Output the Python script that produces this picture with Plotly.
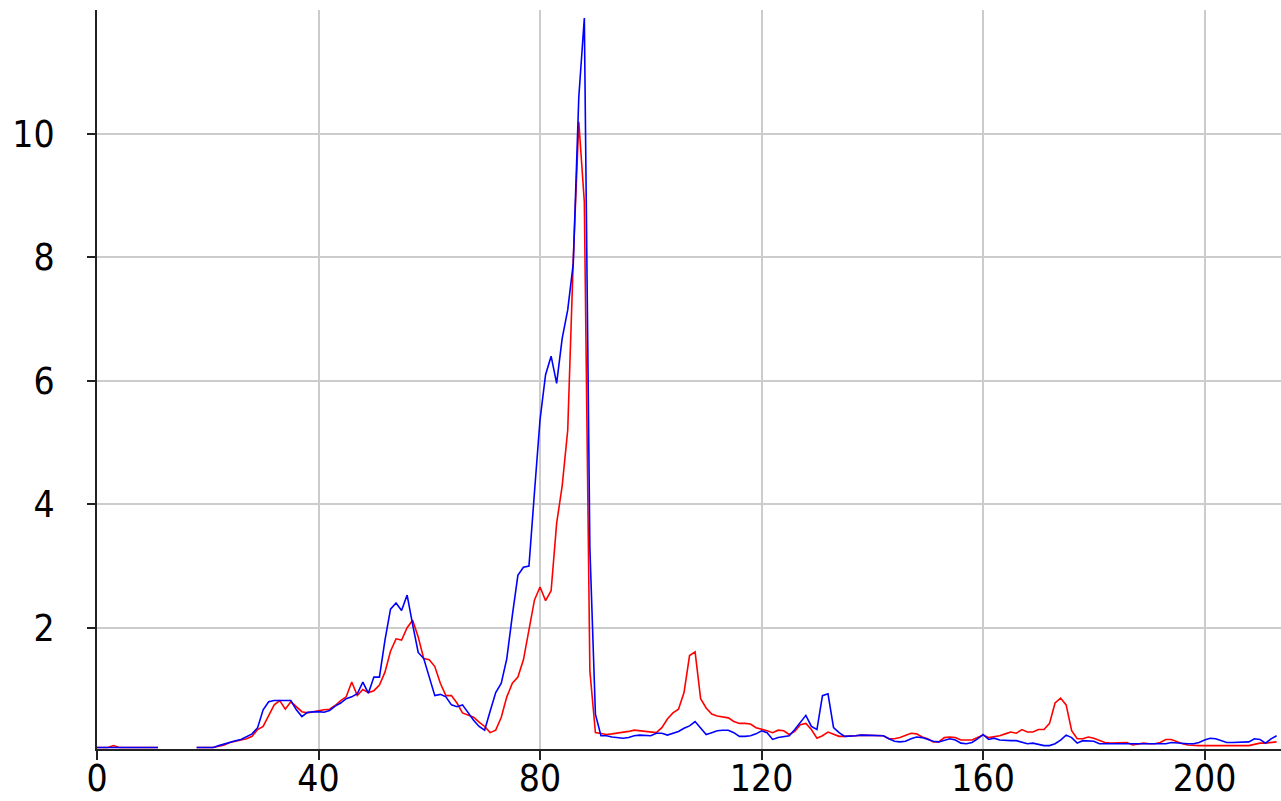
import plotly.graph_objects as go

# Sample positions (one per unit) and the two measured profiles.
x_values = list(range(0, 214))

base = 0.06
gap = None

red_series = (
    [base, base, base, 0.09, base, base, base, base, base, base, base, base]          # 0-11
    + [gap, gap, gap, gap, gap, gap]                                                   # 12-17
    + [base, base, base, 0.06, 0.08, 0.10, 0.14, 0.16, 0.18, 0.20, 0.24]               # 18-28
    + [0.35, 0.40, 0.57, 0.75, 0.82, 0.68, 0.80, 0.72, 0.64, 0.62, 0.64]               # 29-39
    + [0.66, 0.67, 0.68, 0.74, 0.82, 0.88, 1.12, 0.90, 1.00, 0.95, 0.98]               # 40-50
    + [1.07, 1.28, 1.62, 1.82, 1.80, 2.00, 2.12, 1.85, 1.50, 1.48, 1.37]               # 51-61
    + [1.10, 0.90, 0.90, 0.78, 0.62, 0.58, 0.55, 0.47, 0.40, 0.30, 0.34]               # 62-72
    + [0.55, 0.88, 1.10, 1.20, 1.48, 1.95, 2.45, 2.66, 2.44, 2.60, 3.69]               # 73-83
    + [4.30, 5.20, 7.96, 10.20, 8.90, 1.30, 0.30, 0.29, 0.27, 0.28, 0.29]              # 84-94
    + [0.30, 0.32, 0.34, 0.33, 0.32, 0.31, 0.30, 0.38, 0.52, 0.62, 0.68]               # 95-105
    + [0.95, 1.55, 1.61, 0.85, 0.70, 0.60, 0.57, 0.56, 0.54, 0.48, 0.45]               # 106-116
    + [0.45, 0.44, 0.38, 0.36, 0.33, 0.30, 0.34, 0.33, 0.27, 0.32, 0.43]               # 117-127
    + [0.45, 0.35, 0.21, 0.25, 0.31, 0.28, 0.24, 0.24, 0.24, 0.25, 0.26]               # 128-138
    + [0.26, 0.26, 0.26, 0.25, 0.20, 0.20, 0.22, 0.26, 0.29, 0.28, 0.23]               # 139-149
    + [0.20, 0.15, 0.15, 0.22, 0.23, 0.22, 0.18, 0.18, 0.18, 0.22, 0.26]               # 150-160
    + [0.22, 0.23, 0.25, 0.28, 0.31, 0.29, 0.35, 0.31, 0.31, 0.35, 0.35]               # 161-171
    + [0.45, 0.78, 0.86, 0.75, 0.33, 0.20, 0.20, 0.23, 0.21, 0.17, 0.14]               # 172-182
    + [0.13, 0.13, 0.14, 0.14, 0.10, 0.12, 0.13, 0.12, 0.12, 0.14, 0.19]               # 183-193
    + [0.19, 0.15, 0.12, 0.10, 0.09, 0.09, 0.09, 0.09, 0.09, 0.09, 0.09]               # 194-204
    + [0.09, 0.09, 0.09, 0.09, 0.11, 0.13, 0.13, 0.14, 0.15]                           # 205-213
)

blue_series = (
    [base, base, base, base, base, base, base, base, base, base, base, base]          # 0-11
    + [gap, gap, gap, gap, gap, gap]                                                   # 12-17
    + [base, base, base, 0.06, 0.09, 0.12, 0.15, 0.17, 0.19, 0.23, 0.28]               # 18-28
    + [0.38, 0.67, 0.80, 0.82, 0.82, 0.82, 0.82, 0.67, 0.56, 0.63, 0.64]               # 29-39
    + [0.64, 0.63, 0.66, 0.73, 0.78, 0.85, 0.88, 0.93, 1.12, 0.94, 1.20]               # 40-50
    + [1.20, 1.80, 2.30, 2.40, 2.28, 2.53, 2.05, 1.60, 1.50, 1.20, 0.90]               # 51-61
    + [0.92, 0.88, 0.75, 0.72, 0.75, 0.62, 0.50, 0.40, 0.34, 0.65, 0.95]               # 62-72
    + [1.10, 1.50, 2.20, 2.85, 2.98, 3.00, 4.20, 5.37, 6.10, 6.40, 5.96]               # 73-83
    + [6.69, 7.15, 7.90, 10.60, 11.88, 3.30, 0.60, 0.25, 0.25, 0.23, 0.22]             # 84-94
    + [0.21, 0.22, 0.25, 0.26, 0.26, 0.25, 0.29, 0.29, 0.26, 0.29, 0.32]               # 95-105
    + [0.37, 0.41, 0.48, 0.38, 0.27, 0.30, 0.33, 0.34, 0.34, 0.30, 0.24]               # 106-116
    + [0.24, 0.25, 0.28, 0.33, 0.30, 0.19, 0.22, 0.24, 0.25, 0.35, 0.47]               # 117-127
    + [0.58, 0.40, 0.35, 0.90, 0.93, 0.38, 0.30, 0.24, 0.24, 0.25, 0.26]               # 128-138
    + [0.26, 0.26, 0.26, 0.25, 0.20, 0.16, 0.15, 0.16, 0.20, 0.23, 0.22]               # 139-149
    + [0.19, 0.16, 0.15, 0.17, 0.20, 0.18, 0.13, 0.12, 0.14, 0.20, 0.27]               # 150-160
    + [0.19, 0.21, 0.18, 0.17, 0.17, 0.17, 0.14, 0.12, 0.13, 0.11, 0.09]               # 161-171
    + [0.09, 0.12, 0.18, 0.26, 0.22, 0.13, 0.17, 0.17, 0.16, 0.12, 0.12]               # 172-182
    + [0.12, 0.12, 0.12, 0.12, 0.12, 0.12, 0.12, 0.12, 0.12, 0.12, 0.12]               # 183-193
    + [0.14, 0.13, 0.12, 0.12, 0.12, 0.14, 0.18, 0.21, 0.20, 0.17, 0.14]               # 194-204
    + [0.14, 0.14, 0.14, 0.15, 0.20, 0.19, 0.13, 0.20, 0.25]                           # 205-213
)

x_tick_values = [0, 40, 80, 120, 160, 200]
y_tick_values = [2, 4, 6, 8, 10]

fig = go.Figure()
fig.add_trace(go.Scatter(x=x_values, y=red_series, mode="lines",
                         line=dict(color="#ff0000", width=1.6), connectgaps=False,
                         showlegend=False, hoverinfo="skip"))
fig.add_trace(go.Scatter(x=x_values, y=blue_series, mode="lines",
                         line=dict(color="#0000ff", width=1.6), connectgaps=False,
                         showlegend=False, hoverinfo="skip"))

tick_font = dict(family="DejaVu Sans Condensed, DejaVu Sans", size=37, color="#000000")

fig.update_layout(
    width=1281, height=801,
    margin=dict(l=97, r=0, t=10, b=52),
    paper_bgcolor="#ffffff", plot_bgcolor="#ffffff",
    xaxis=dict(range=[0, 213.8], tickvals=x_tick_values, showgrid=True,
               gridcolor="#cccccc", gridwidth=1.5, zeroline=False,
               showline=True, linecolor="#222222", linewidth=2,
               ticks="outside", ticklen=9, tickwidth=2, tickcolor="#222222",
               tickfont=tick_font, ticklabelstandoff=-13, automargin=False),
    yaxis=dict(range=[0.035, 12.01], tickvals=y_tick_values, showgrid=True,
               gridcolor="#cccccc", gridwidth=1.5, zeroline=False,
               showline=True, linecolor="#222222", linewidth=2,
               ticks="outside", ticklen=8, tickwidth=2, tickcolor="#222222",
               tickfont=tick_font, ticklabelstandoff=25, automargin=False),
)

fig.write_html("out.html")
